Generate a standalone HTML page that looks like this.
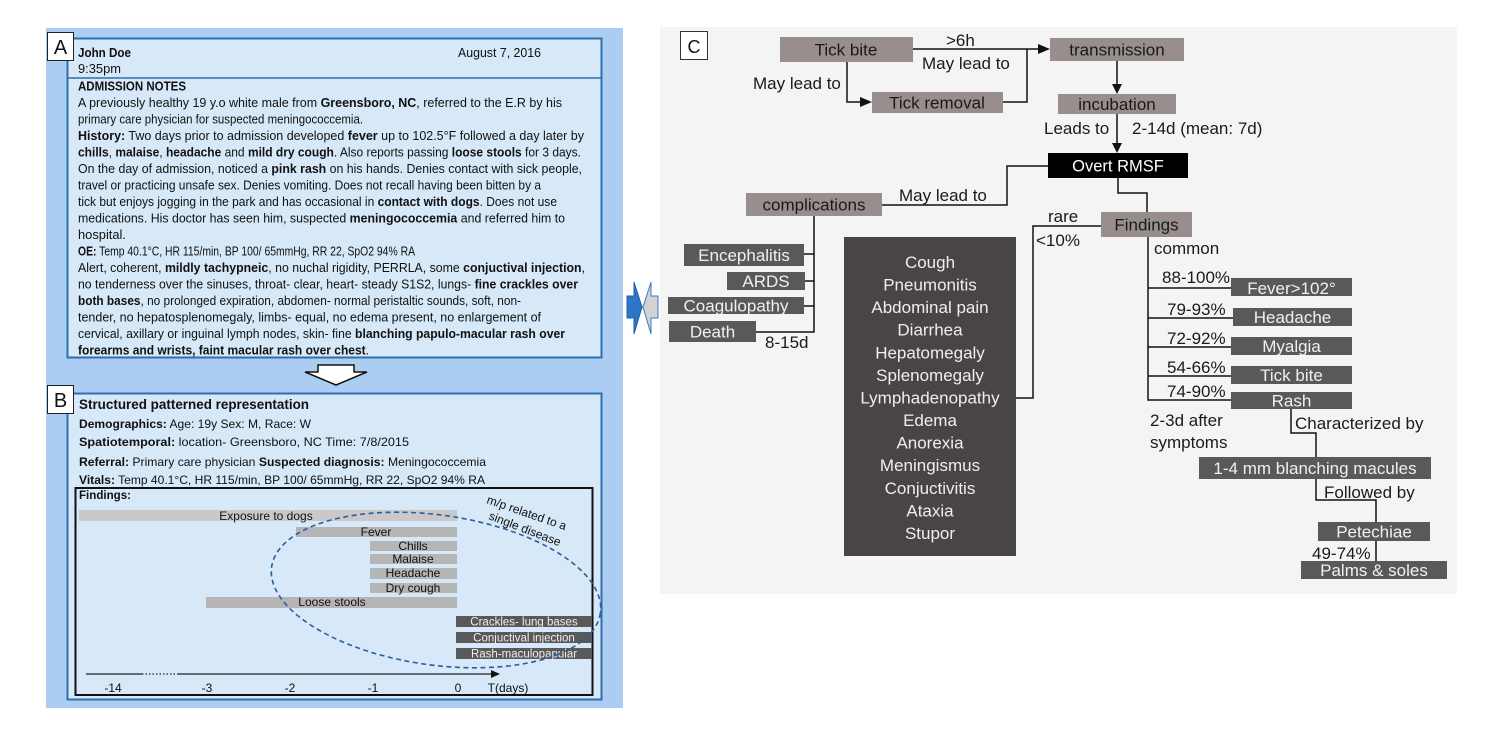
<!DOCTYPE html>
<html>
<head>
<meta charset="utf-8">
<style>
html,body{margin:0;padding:0;background:#fff;overflow:hidden;}
svg{display:block;}
</style>
</head>
<body>
<svg width="1498" height="729" viewBox="0 0 1498 729" xmlns="http://www.w3.org/2000/svg" font-family="'Liberation Sans', sans-serif">
<rect x="0" y="0" width="1498" height="729" fill="#ffffff"/>

<!-- LEFT BLUE PANEL -->
<rect x="46" y="28" width="577" height="680" fill="#aacdf1"/>

<!-- Panel A -->
<rect x="67.5" y="38.5" width="534" height="319" fill="#d7e8f9" stroke="#2f6fad" stroke-width="2"/>
<line x1="67" y1="78" x2="601" y2="78" stroke="#2f6fad" stroke-width="1.5"/>
<rect x="47.5" y="32.5" width="26" height="28" fill="#fff" stroke="#222" stroke-width="1"/>
<text x="60.5" y="54" font-size="20" text-anchor="middle" fill="#111">A</text>

<g font-size="12.5" fill="#111">
<text x="78" y="57" font-weight="bold" textLength="53" lengthAdjust="spacingAndGlyphs">John Doe</text>
<text x="458" y="57" textLength="83" lengthAdjust="spacingAndGlyphs">August 7, 2016</text>
<text x="78" y="73" textLength="43" lengthAdjust="spacingAndGlyphs">9:35pm</text>
<text x="78" y="90.5" font-weight="bold" textLength="108" lengthAdjust="spacingAndGlyphs">ADMISSION NOTES</text>
<text x="78" y="107" textLength="484" lengthAdjust="spacingAndGlyphs">A previously healthy 19 y.o white male from <tspan font-weight="bold">Greensboro, NC</tspan>, referred to the E.R by his</text>
<text x="78" y="123.5" textLength="285" lengthAdjust="spacingAndGlyphs">primary care physician for suspected meningococcemia.</text>
<text x="78" y="140" textLength="506" lengthAdjust="spacingAndGlyphs"><tspan font-weight="bold">History:</tspan> Two days prior to admission developed <tspan font-weight="bold">fever</tspan> up to 102.5°F followed a day later by</text>
<text x="78" y="156.5" textLength="503" lengthAdjust="spacingAndGlyphs"><tspan font-weight="bold">chills</tspan>, <tspan font-weight="bold">malaise</tspan>, <tspan font-weight="bold">headache</tspan> and <tspan font-weight="bold">mild dry cough</tspan>. Also reports passing <tspan font-weight="bold">loose stools</tspan> for 3 days.</text>
<text x="78" y="173" textLength="504" lengthAdjust="spacingAndGlyphs">On the day of admission, noticed a <tspan font-weight="bold">pink rash</tspan> on his hands. Denies contact with sick people,</text>
<text x="78" y="189.5" textLength="463" lengthAdjust="spacingAndGlyphs">travel or practicing unsafe sex. Denies vomiting. Does not recall having been bitten by a</text>
<text x="78" y="206" textLength="479" lengthAdjust="spacingAndGlyphs">tick but enjoys jogging in the park and has occasional in <tspan font-weight="bold">contact with dogs</tspan>. Does not use</text>
<text x="78" y="222.5" textLength="487" lengthAdjust="spacingAndGlyphs">medications. His doctor has seen him, suspected <tspan font-weight="bold">meningococcemia</tspan> and referred him to</text>
<text x="78" y="239" textLength="48" lengthAdjust="spacingAndGlyphs">hospital.</text>
<text x="78" y="255.5" textLength="337" lengthAdjust="spacingAndGlyphs"><tspan font-weight="bold">OE:</tspan> Temp 40.1°C, HR 115/min, BP 100/ 65mmHg, RR 22, SpO2 94% RA</text>
<text x="78" y="272" textLength="507" lengthAdjust="spacingAndGlyphs">Alert, coherent, <tspan font-weight="bold">mildly tachypneic</tspan>, no nuchal rigidity, PERRLA, some <tspan font-weight="bold">conjuctival injection</tspan>,</text>
<text x="78" y="288.5" textLength="500" lengthAdjust="spacingAndGlyphs">no tenderness over the sinuses, throat- clear, heart- steady S1S2, lungs- <tspan font-weight="bold">fine crackles over</tspan></text>
<text x="78" y="305" textLength="443" lengthAdjust="spacingAndGlyphs"><tspan font-weight="bold">both bases</tspan>, no prolonged expiration, abdomen- normal peristaltic sounds, soft, non-</text>
<text x="78" y="321.5" textLength="463" lengthAdjust="spacingAndGlyphs">tender, no hepatosplenomegaly, limbs- equal, no edema present, no enlargement of</text>
<text x="78" y="338" textLength="487" lengthAdjust="spacingAndGlyphs">cervical, axillary or inguinal lymph nodes, skin- fine <tspan font-weight="bold">blanching papulo-macular rash over</tspan></text>
<text x="78" y="354.5" textLength="291" lengthAdjust="spacingAndGlyphs"><tspan font-weight="bold">forearms and wrists, faint macular rash over chest</tspan>.</text>
</g>

<!-- Down arrow -->
<polygon points="318,365 354,365 354,372 367,372 336,385 305,372 318,372" fill="#fff" stroke="#111" stroke-width="1.5"/>

<!-- Panel B -->
<rect x="67.5" y="393.5" width="534" height="306" fill="#d7e8f9" stroke="#2f6fad" stroke-width="2"/>
<rect x="47.5" y="385.5" width="26" height="28" fill="#fff" stroke="#222" stroke-width="1"/>
<text x="60.5" y="407" font-size="20" text-anchor="middle" fill="#111">B</text>

<g fill="#111">
<text x="79" y="409" font-size="13.5" font-weight="bold" textLength="230" lengthAdjust="spacingAndGlyphs">Structured patterned representation</text>
<text x="79" y="428" font-size="12" textLength="232" lengthAdjust="spacingAndGlyphs"><tspan font-weight="bold">Demographics:</tspan> Age: 19y  Sex: M, Race: W</text>
<text x="79" y="446" font-size="12" textLength="330" lengthAdjust="spacingAndGlyphs"><tspan font-weight="bold">Spatiotemporal:</tspan> location- Greensboro, NC  Time: 7/8/2015</text>
<text x="79" y="466" font-size="12" textLength="407" lengthAdjust="spacingAndGlyphs"><tspan font-weight="bold">Referral:</tspan> Primary care physician  <tspan font-weight="bold">Suspected diagnosis:</tspan> Meningococcemia</text>
<text x="79" y="484" font-size="12" textLength="406" lengthAdjust="spacingAndGlyphs"><tspan font-weight="bold">Vitals:</tspan> Temp 40.1°C, HR 115/min, BP 100/ 65mmHg, RR 22, SpO2 94% RA</text>
</g>

<!-- Findings box -->
<rect x="75.5" y="488" width="517" height="207" fill="none" stroke="#111" stroke-width="2"/>
<text x="79" y="499" font-size="12" font-weight="bold" fill="#111" textLength="52" lengthAdjust="spacingAndGlyphs">Findings:</text>

<g font-size="12" fill="#111" text-anchor="middle">
<rect x="79" y="510" width="378" height="11" fill="#c9c9c9"/>
<text x="266" y="520">Exposure to dogs</text>
<rect x="296" y="527" width="161" height="10" fill="#b5b5b5"/>
<text x="376" y="536">Fever</text>
<rect x="370" y="541" width="87" height="10" fill="#b5b5b5"/>
<text x="413" y="550">Chills</text>
<rect x="370" y="554" width="87" height="10" fill="#b5b5b5"/>
<text x="413" y="563">Malaise</text>
<rect x="370" y="568" width="87" height="11" fill="#b5b5b5"/>
<text x="413" y="577">Headache</text>
<rect x="370" y="583" width="87" height="10" fill="#b5b5b5"/>
<text x="413" y="592">Dry cough</text>
<rect x="206" y="597" width="251" height="11" fill="#b5b5b5"/>
<text x="332" y="606">Loose stools</text>
</g>
<g font-size="11.5" fill="#eeeeee" text-anchor="middle">
<rect x="456" y="616" width="136" height="11" fill="#595959"/>
<text x="524" y="625.5">Crackles- lung bases</text>
<rect x="456" y="632" width="136" height="11" fill="#595959"/>
<text x="524" y="641.5">Conjuctival injection</text>
<rect x="456" y="648" width="136" height="11" fill="#595959"/>
<text x="524" y="657.5">Rash-maculopapular</text>
</g>

<!-- Axis -->
<line x1="86" y1="674" x2="142" y2="674" stroke="#222" stroke-width="1.3"/>
<line x1="142" y1="674" x2="177" y2="674" stroke="#222" stroke-width="1.3" stroke-dasharray="1.5 2"/>
<line x1="177" y1="674" x2="492" y2="674" stroke="#222" stroke-width="1.3"/>
<polygon points="491,670 500,674 491,678" fill="#111"/>
<g font-size="12" fill="#111" text-anchor="middle">
<text x="113" y="692">-14</text>
<text x="207" y="692">-3</text>
<text x="290" y="692">-2</text>
<text x="373" y="692">-1</text>
<text x="458" y="692">0</text>
<text x="508" y="692">T(days)</text>
</g>

<!-- dashed ellipse -->
<ellipse cx="436" cy="590" rx="166" ry="75" transform="rotate(8 436 590)" fill="none" stroke="#2c5f99" stroke-width="1.6" stroke-dasharray="5 3.5"/>
<text transform="translate(486,503) rotate(19)" font-size="12" fill="#111">m/p related to a</text>
<text transform="translate(488,519) rotate(21)" font-size="12" fill="#111">single disease</text>

<!-- Arrows between panels -->
<polygon points="627,296 634,296 634,282 642,307 634,334 634,318 627,318" fill="#2e75c6" stroke="#1f5ea8" stroke-width="1"/>
<polygon points="658,296 651,296 651,282 643,307 651,334 651,318 658,318" fill="#d2d2d2" stroke="#3b78c4" stroke-width="1"/>

<!-- PANEL C -->
<rect x="660" y="27" width="797" height="567" fill="#f4f4f4"/>
<rect x="680.5" y="31.5" width="27" height="28" fill="#fff" stroke="#333" stroke-width="1"/>
<text x="694" y="53" font-size="18" text-anchor="middle" fill="#111">C</text>

<!-- connectors -->
<g stroke="#111" stroke-width="1.5" fill="none">
<polyline points="913,49 1040,49"/>
<polyline points="1003,102 1027,102 1027,49"/>
<polyline points="847,62 847,102 862,102"/>
<polyline points="1117,61 1117,85"/>
<polyline points="1117,114 1117,144"/>
<polyline points="1048,166 1007,166 1007,205 882,205"/>
<polyline points="814,216 814,332 756,332"/>
<polyline points="804,254 814,254"/>
<polyline points="805,281 814,281"/>
<polyline points="804,306 814,306"/>
<polyline points="1118,178 1118,193 1147,193 1147,212"/>
<polyline points="1101,226 1033,226 1033,398 1016,398"/>
<polyline points="1148,237 1148,400 1231,400"/>
<polyline points="1148,288 1231,288"/>
<polyline points="1148,318 1233,318"/>
<polyline points="1148,347 1231,347"/>
<polyline points="1148,376 1231,376"/>
<polyline points="1291,409 1291,433 1316,433 1316,457"/>
<polyline points="1316,479 1316,500 1376,500 1376,522"/>
<polyline points="1376,541 1376,561"/>
</g>
<g fill="#111">
<polygon points="1038,44 1050,49 1038,54"/>
<polygon points="860,97 872,102 860,107"/>
<polygon points="1112,84 1117,94 1122,84"/>
<polygon points="1112,143 1117,153 1122,143"/>
</g>

<!-- gray nodes -->
<g fill="#978e8d">
<rect x="780" y="37" width="133" height="25"/>
<rect x="872" y="92" width="131" height="21"/>
<rect x="1050" y="38" width="134" height="23"/>
<rect x="1058" y="94" width="118" height="20"/>
<rect x="746" y="193" width="136" height="23"/>
<rect x="1101" y="212" width="91" height="25"/>
</g>
<rect x="1048" y="153" width="140" height="25" fill="#000"/>

<g font-size="17" fill="#1a1a1a" text-anchor="middle">
<text x="846" y="55.5">Tick bite</text>
<text x="937" y="108.5">Tick removal</text>
<text x="1117" y="55.5">transmission</text>
<text x="1117" y="110">incubation</text>
<text x="814" y="210.5">complications</text>
<text x="1146.5" y="230.5">Findings</text>
</g>
<text x="1118" y="171.5" font-size="16.5" fill="#fff" text-anchor="middle">Overt RMSF</text>

<!-- labels -->
<g font-size="17" fill="#1a1a1a">
<text x="946" y="46">&gt;6h</text>
<text x="922" y="69">May lead to</text>
<text x="753" y="89">May lead to</text>
<text x="1044" y="134">Leads to</text>
<text x="1132" y="134">2-14d (mean: 7d)</text>
<text x="899" y="201">May lead to</text>
<text x="1048" y="222">rare</text>
<text x="1036" y="246">&lt;10%</text>
<text x="1154" y="254">common</text>
<text x="1162" y="283">88-100%</text>
<text x="1167" y="315">79-93%</text>
<text x="1167" y="344">72-92%</text>
<text x="1167" y="373">54-66%</text>
<text x="1167" y="397">74-90%</text>
<text x="1150" y="426">2-3d after</text>
<text x="1150" y="448">symptoms</text>
<text x="1295" y="429">Characterized by</text>
<text x="1324" y="498">Followed by</text>
<text x="1312" y="559">49-74%</text>
<text x="765" y="348">8-15d</text>
</g>

<!-- dark nodes -->
<g fill="#5a5959">
<rect x="684" y="244" width="120" height="22"/>
<rect x="727" y="272" width="78" height="18"/>
<rect x="668" y="297" width="136" height="17"/>
<rect x="669" y="321" width="87" height="21"/>
<rect x="1231" y="278" width="121" height="18"/>
<rect x="1233" y="308" width="119" height="18"/>
<rect x="1231" y="337" width="121" height="18"/>
<rect x="1231" y="366" width="121" height="18"/>
<rect x="1231" y="392" width="121" height="17"/>
<rect x="1199" y="457" width="232" height="22"/>
<rect x="1318" y="522" width="112" height="19"/>
<rect x="1301" y="561" width="146" height="18"/>
</g>
<g font-size="17" fill="#f0f0f0" text-anchor="middle">
<text x="744" y="261">Encephalitis</text>
<text x="766" y="287">ARDS</text>
<text x="736" y="311.5">Coagulopathy</text>
<text x="712.5" y="337.5">Death</text>
<text x="1291.5" y="294">Fever&gt;102°</text>
<text x="1292.5" y="323">Headache</text>
<text x="1291.5" y="352">Myalgia</text>
<text x="1291.5" y="381">Tick bite</text>
<text x="1291.5" y="406.5">Rash</text>
<text x="1315" y="474">1-4 mm blanching macules</text>
<text x="1374" y="537.5">Petechiae</text>
<text x="1374" y="576">Palms &amp; soles</text>
</g>

<!-- big dark box -->
<rect x="844" y="237" width="172" height="319" fill="#4a4545"/>
<g font-size="17" fill="#eeeeee" text-anchor="middle">
<text x="930" y="268">Cough</text>
<text x="930" y="290.6">Pneumonitis</text>
<text x="930" y="313.2">Abdominal pain</text>
<text x="930" y="335.7">Diarrhea</text>
<text x="930" y="358.3">Hepatomegaly</text>
<text x="930" y="380.9">Splenomegaly</text>
<text x="930" y="403.5">Lymphadenopathy</text>
<text x="930" y="426.1">Edema</text>
<text x="930" y="448.6">Anorexia</text>
<text x="930" y="471.2">Meningismus</text>
<text x="930" y="493.8">Conjuctivitis</text>
<text x="930" y="516.4">Ataxia</text>
<text x="930" y="539">Stupor</text>
</g>
</svg>
</body>
</html>
